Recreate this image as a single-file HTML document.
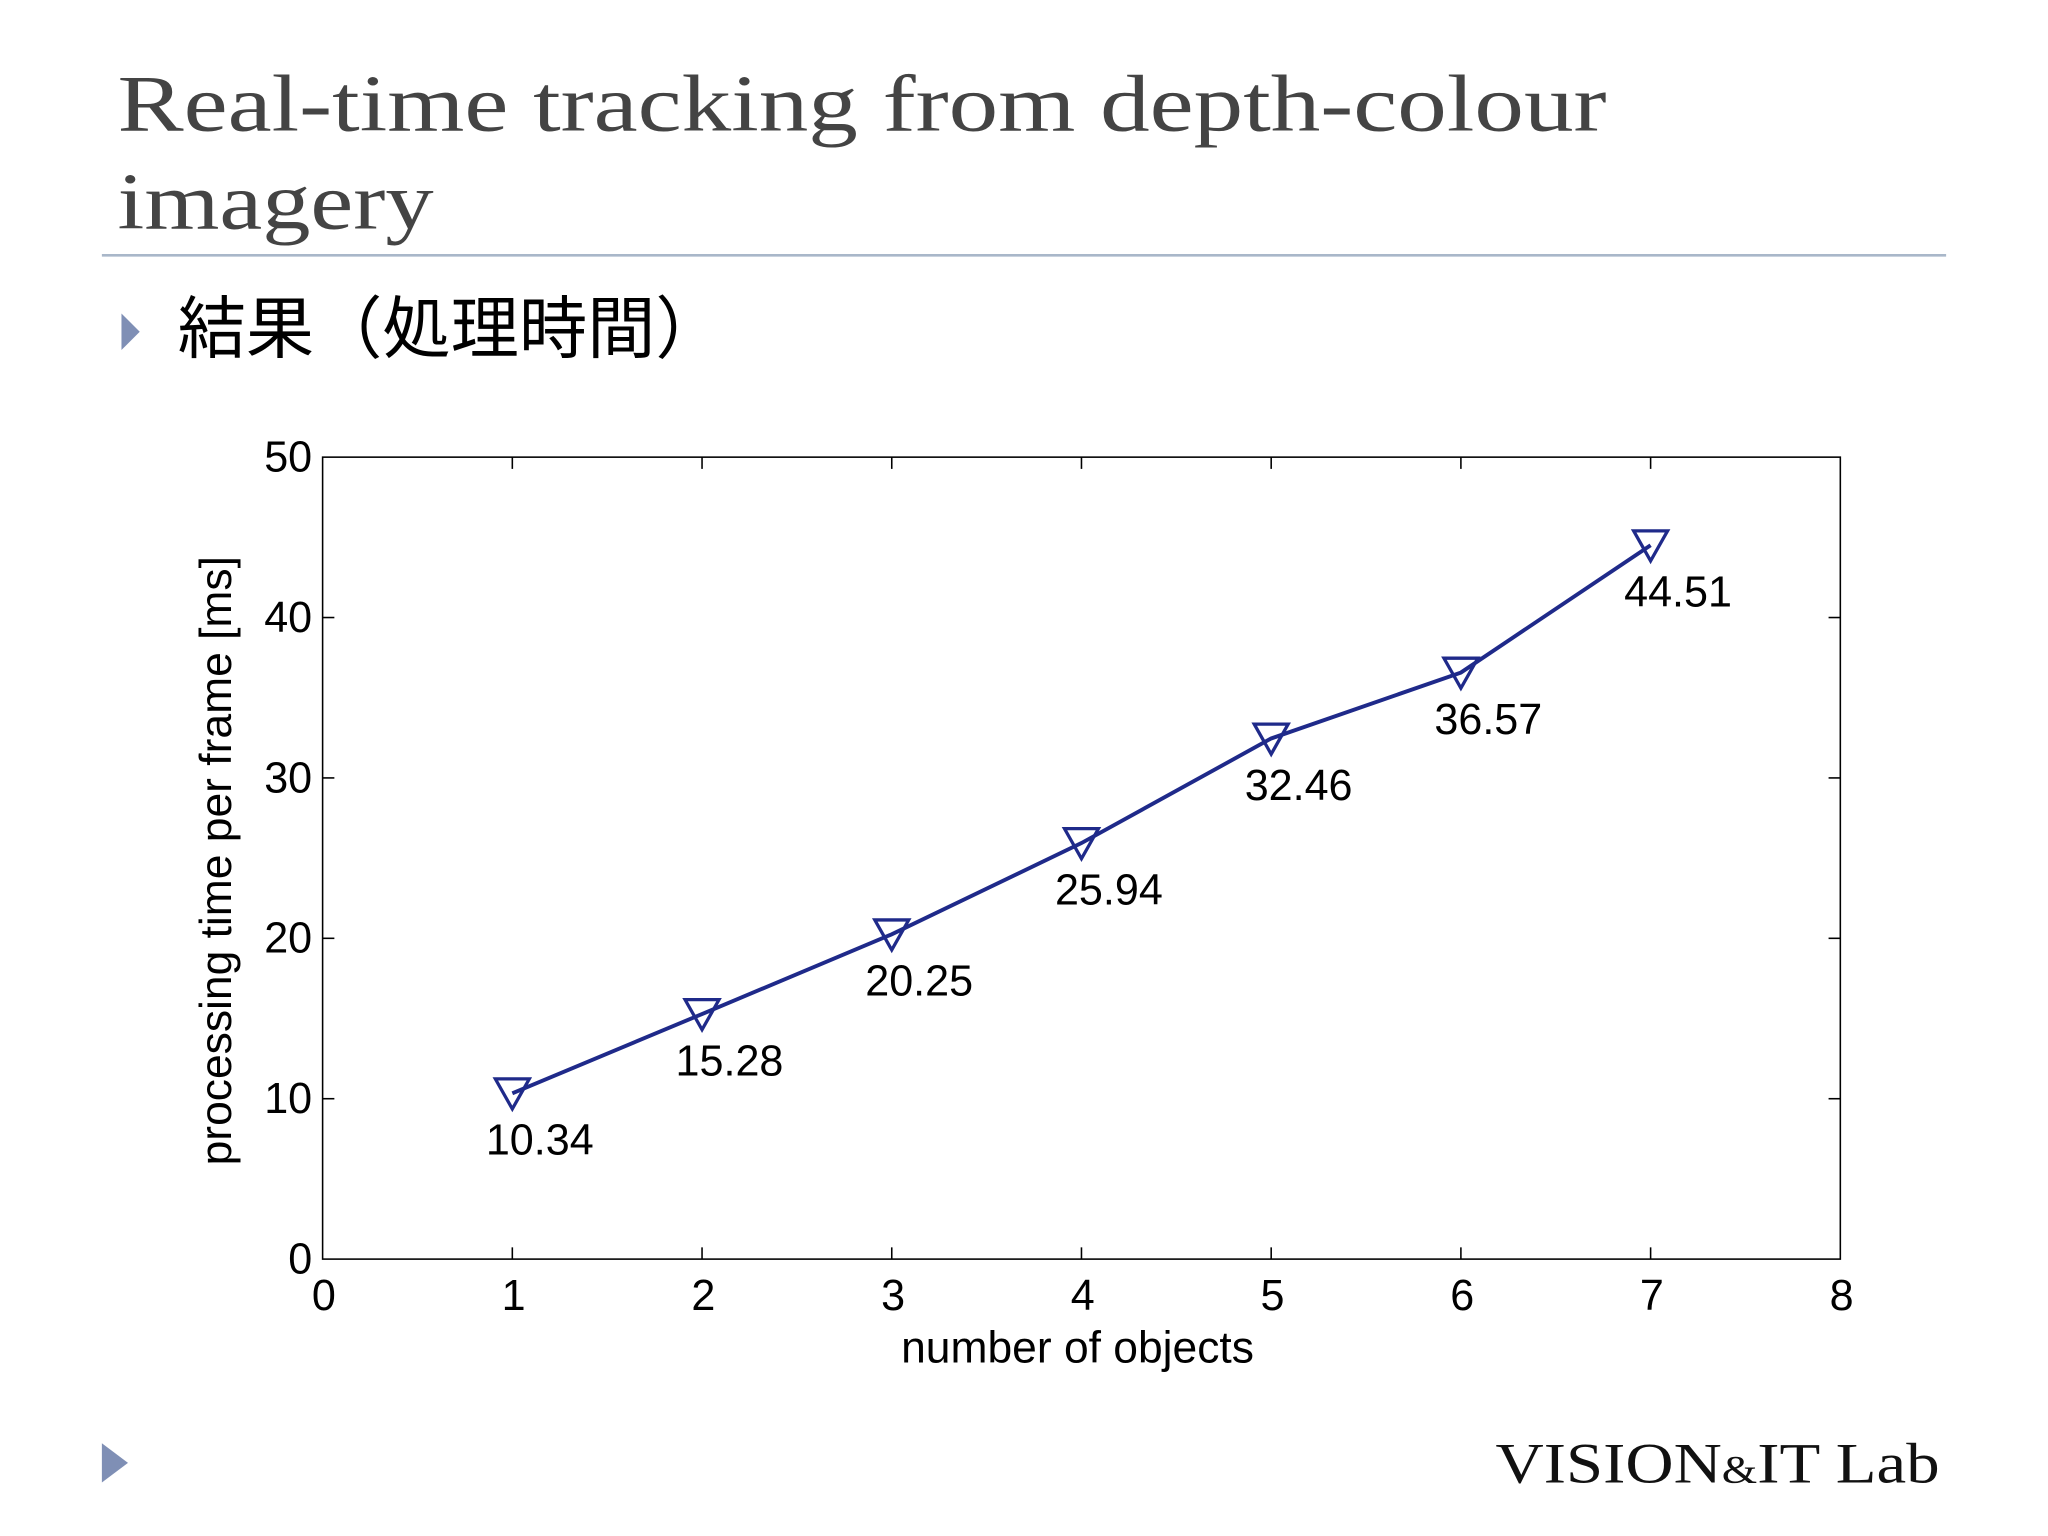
<!DOCTYPE html>
<html><head><meta charset="utf-8"><style>
html,body{margin:0;padding:0;background:#fff;}
svg{display:block;}
</style></head><body>
<svg width="2048" height="1536" viewBox="0 0 1568 1176" xmlns="http://www.w3.org/2000/svg">
<rect x="0" y="0" width="1568" height="1176" fill="#fff"/>
<text x="90" y="100" font-family="Liberation Serif, serif" font-size="62" fill="#444" textLength="1140" lengthAdjust="spacingAndGlyphs">Real-time tracking from depth-colour</text>
<text x="90" y="175" font-family="Liberation Serif, serif" font-size="62" fill="#444" textLength="242" lengthAdjust="spacingAndGlyphs">imagery</text>
<line x1="78" y1="195.5" x2="1490" y2="195.5" stroke="#a9b7c9" stroke-width="2"/>
<polygon points="93,240 107,254 93,268" fill="#7f8fb5"/>
<text x="136" y="270" font-family="Liberation Sans, 'Noto Sans CJK JP', sans-serif" font-size="52" fill="#000" textLength="418" lengthAdjust="spacingAndGlyphs">結果（処理時間）</text>
<g id="chart"></g>
<polygon points="78,1105 98,1120 78,1135" fill="#7f8fb5"/>
<text x="1145" y="1135" font-family="Liberation Serif, serif" font-size="44" fill="#111" textLength="340" lengthAdjust="spacingAndGlyphs">VISION<tspan font-size="30">&amp;</tspan>IT Lab</text>
</svg>
<script>
const xValues=[1,2,3,4,5,6,7];
const yValues=[10.34,15.28,20.25,25.94,32.46,36.57,44.51];
const valueLabels=["10.34","15.28","20.25","25.94","32.46","36.57","44.51"];
const xTicks=[0,1,2,3,4,5,6,7,8];
const yTicks=[0,10,20,30,40,50];
const NS="http://www.w3.org/2000/svg";
const g=document.getElementById('chart');
const L=247,R=1409,T=350,B=964;
const sx=v=>L+(v-0)/(8-0)*(R-L);
const sy=v=>B-(v-0)/(50-0)*(B-T);
function mk(tag,attrs,parent){const e=document.createElementNS(NS,tag);for(const k in attrs)e.setAttribute(k,attrs[k]);(parent||g).appendChild(e);return e;}
const frame=mk('rect',{x:L,y:T,width:R-L,height:B-T,fill:'none',stroke:'#000','stroke-width':1.2});


xTicks.forEach(t=>{
  const x=sx(t);
  if(t>0&&t<8){mk('line',{x1:x,y1:B,x2:x,y2:B-9,stroke:'#000','stroke-width':1.2});mk('line',{x1:x,y1:T,x2:x,y2:T+9,stroke:'#000','stroke-width':1.2});}
  const tx=mk('text',{x:x+1,y:1003,'text-anchor':'middle','font-family':'Liberation Sans, sans-serif','font-size':33,fill:'#000'});
  tx.textContent=t;
  
  
});
yTicks.forEach(t=>{
  const y=sy(t);
  if(t>0&&t<50){mk('line',{x1:L,y1:y,x2:L+9,y2:y,stroke:'#000','stroke-width':1.2});mk('line',{x1:R,y1:y,x2:R-9,y2:y,stroke:'#000','stroke-width':1.2});}
  const tx=mk('text',{x:239,y:y+11,'text-anchor':'end','font-family':'Liberation Sans, sans-serif','font-size':33,fill:'#000'});
  tx.textContent=t;
  
  
});
const xl=mk('text',{x:825,y:1043,'text-anchor':'middle','font-family':'Liberation Sans, sans-serif','font-size':34,fill:'#000'});
xl.textContent='number of objects';


const yl=mk('text',{x:0,y:0,'text-anchor':'middle','font-family':'Liberation Sans, sans-serif','font-size':34,fill:'#000',transform:'translate(177,659) rotate(-90)'});
yl.textContent='processing time per frame [ms]';


const pts=xValues.map((v,i)=>sx(v)+','+sy(yValues[i])).join(' ');
const line=mk('polyline',{points:pts,fill:'none',stroke:'#1f2a8a','stroke-width':3});


xValues.forEach((v,i)=>{
  const x=sx(v),y=sy(yValues[i]);
  const m=mk('polygon',{points:`${x-13},${y-11} ${x+13},${y-11} ${x},${y+12}`,fill:'none',stroke:'#1f2a8a','stroke-width':2.5});
  
  
  const t=mk('text',{x:x+21,y:y+47,'text-anchor':'middle','font-family':'Liberation Sans, sans-serif','font-size':33,fill:'#000'});
  t.textContent=valueLabels[i];
  
  
});
</script>
</body></html>
